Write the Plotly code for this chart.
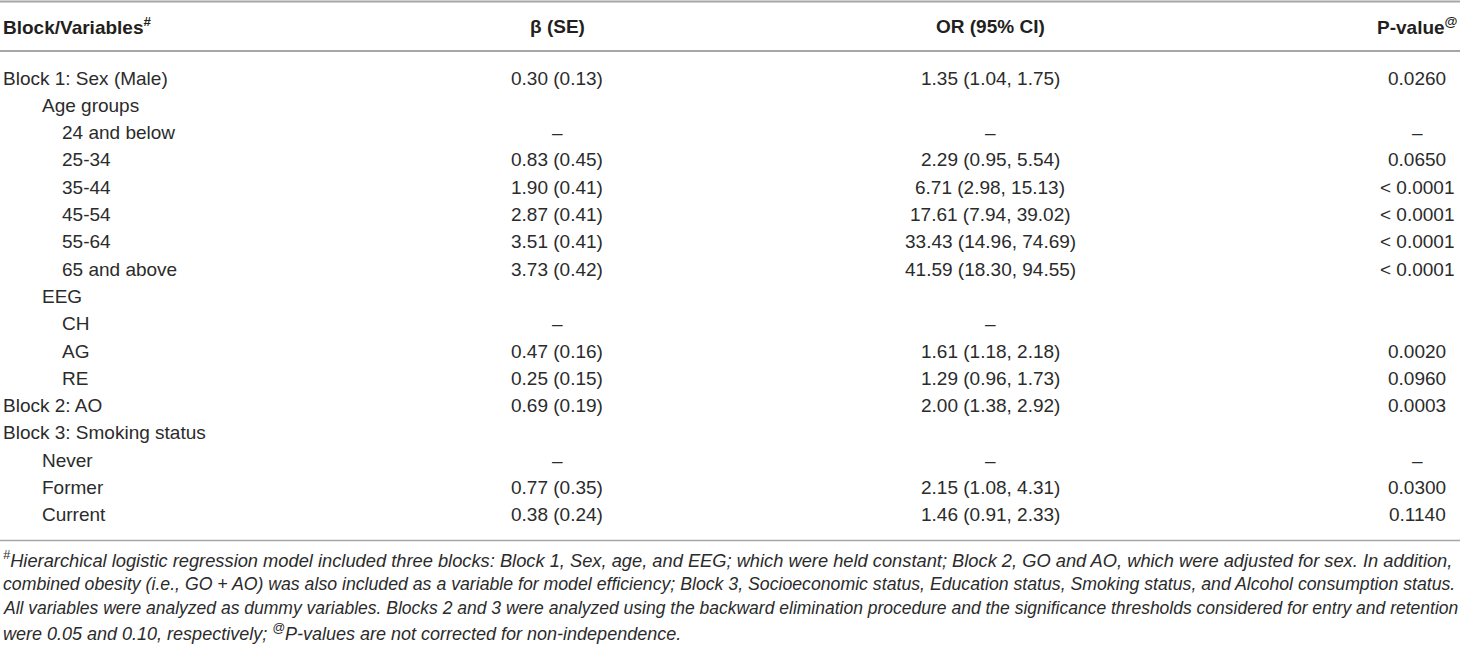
import plotly.graph_objects as go

# ---------------- data ----------------
headers = ["Block/Variables<sup>#</sup>", "β (SE)", "OR (95% CI)", "P-value<sup>@</sup>"]

variables = [
    "Block 1: Sex (Male)", "Age groups", "24 and below", "25-34", "35-44", "45-54",
    "55-64", "65 and above", "EEG", "CH", "AG", "RE", "Block 2: AO",
    "Block 3: Smoking status", "Never", "Former", "Current",
]
indent_level = [0, 1, 2, 2, 2, 2, 2, 2, 1, 2, 2, 2, 0, 0, 1, 1, 1]

beta_se = [
    "0.30 (0.13)", "", "–", "0.83 (0.45)", "1.90 (0.41)", "2.87 (0.41)",
    "3.51 (0.41)", "3.73 (0.42)", "", "–", "0.47 (0.16)", "0.25 (0.15)",
    "0.69 (0.19)", "", "–", "0.77 (0.35)", "0.38 (0.24)",
]
or_ci = [
    "1.35 (1.04, 1.75)", "", "–", "2.29 (0.95, 5.54)", "6.71 (2.98, 15.13)",
    "17.61 (7.94, 39.02)", "33.43 (14.96, 74.69)", "41.59 (18.30, 94.55)", "",
    "–", "1.61 (1.18, 2.18)", "1.29 (0.96, 1.73)", "2.00 (1.38, 2.92)", "",
    "–", "2.15 (1.08, 4.31)", "1.46 (0.91, 2.33)",
]
p_values = [
    "0.0260", "", "–", "0.0650", "< 0.0001", "< 0.0001", "< 0.0001", "< 0.0001",
    "", "", "0.0020", "0.0960", "0.0003", "", "–", "0.0300", "0.1140",
]

footnote_lines = [
    "<sup>#</sup>Hierarchical logistic regression model included three blocks: Block 1, Sex, age, and EEG; which were held constant; Block 2, GO and AO, which were adjusted for sex. In addition,",
    "combined obesity (i.e., GO + AO) was also included as a variable for model efficiency; Block 3, Socioeconomic status, Education status, Smoking status, and Alcohol consumption status.",
    "All variables were analyzed as dummy variables. Blocks 2 and 3 were analyzed using the backward elimination procedure and the significance thresholds considered for entry and retention",
    "were 0.05 and 0.10, respectively; <sup>@</sup>P-values are not corrected for non-independence.",
]

# ---------------- layout constants ----------------
W, H = 1460, 648
row0_px, pitch = 78, 27.3
def k_of(px):
    return (px - row0_px) / pitch

FONT = "Liberation Sans, Arial, sans-serif"
TXT = "#231f20"
BODY = "#2b2b2b"
LINE = "#a6a6a6"

col_x = [1, 557, 990, 1417]
indent_px = [1, 40, 60]

fig = go.Figure()
fig.add_trace(go.Scatter(x=[0, W], y=[k_of(0), k_of(H)], mode="markers",
                         marker=dict(opacity=0), hoverinfo="skip", showlegend=False))

ann = []
# header
hy = k_of(26)
for i, h in enumerate(headers):
    ann.append(dict(x=col_x[i], y=hy, text=f"<b>{h}</b>",
                    xanchor="left" if i == 0 else "center", yanchor="middle",
                    showarrow=False, font=dict(size=19, color=TXT, family=FONT)))

# body
for r, name in enumerate(variables):
    ann.append(dict(x=indent_px[indent_level[r]], y=r, text=name, xanchor="left",
                    yanchor="middle", showarrow=False,
                    font=dict(size=19, color=BODY, family=FONT)))
    for ci, col in ((1, beta_se), (2, or_ci), (3, p_values)):
        if col[r]:
            ann.append(dict(x=col_x[ci], y=r, text=col[r], xanchor="center",
                            yanchor="middle", showarrow=False,
                            font=dict(size=19, color=BODY, family=FONT)))

# footnote
foot_px = [559, 583.5, 608, 632]
foot_size = [18.3, 17.7, 17.5, 18.0]
for line, px, fs in zip(footnote_lines, foot_px, foot_size):
    ann.append(dict(x=1, y=k_of(px), text=f"<i>{line}</i>", xanchor="left",
                    yanchor="middle", showarrow=False,
                    font=dict(size=fs, color=BODY, family=FONT)))

shapes = []
for px, wdt in ((1.5, 2), (51, 2), (540.5, 1.5)):
    shapes.append(dict(type="line", xref="x", yref="y", x0=0, x1=W,
                       y0=k_of(px), y1=k_of(px), line=dict(color=LINE, width=wdt)))

fig.update_layout(
    width=W, height=H, margin=dict(l=0, r=0, t=0, b=0),
    paper_bgcolor="white", plot_bgcolor="white",
    xaxis=dict(range=[0, W], visible=False, fixedrange=True),
    yaxis=dict(range=[k_of(H), k_of(0)], visible=False, fixedrange=True),
    annotations=ann, shapes=shapes, showlegend=False,
)

fig.write_html("out.html", config={"displayModeBar": False},
               post_script="document.body.style.margin='0';document.body.style.overflow='hidden';")
